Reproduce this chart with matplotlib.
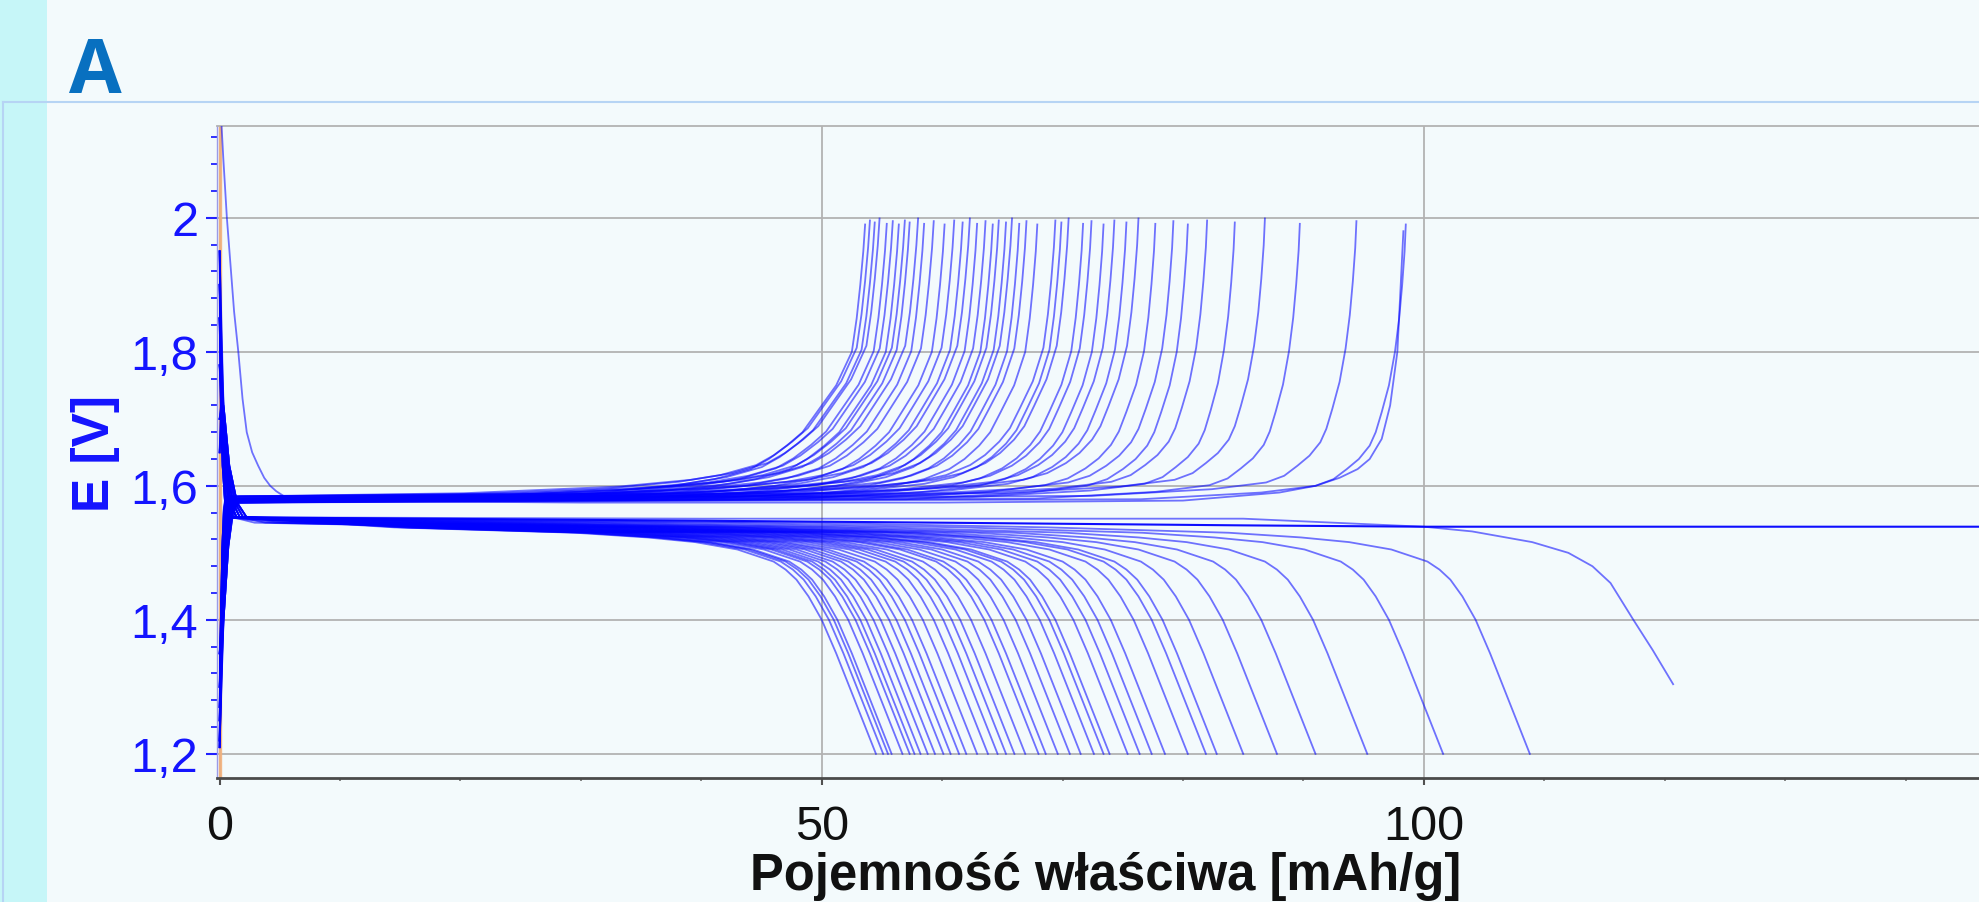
import numpy as np
import matplotlib
matplotlib.use("Agg")
import matplotlib.pyplot as plt
from matplotlib import font_manager
from matplotlib.ticker import FixedLocator, FixedFormatter
from matplotlib.lines import Line2D
from matplotlib.patches import Rectangle

# ---------------- data ----------------
charge_end_capacity = [53.6, 54.0, 54.4, 54.8, 55.4, 55.9, 56.4, 56.9, 57.3, 58.0,
                       58.5, 59.3, 60.2, 61.0, 61.7, 62.3, 62.9, 63.6, 64.2, 64.7,
                       65.3, 65.8, 66.4, 67.0, 67.9, 69.4, 69.9, 70.5, 71.7, 72.4,
                       73.4, 74.3, 75.3, 76.3, 77.7, 79.2, 80.4, 82.0, 84.3, 86.8,
                       89.7, 94.4, 98.5]
discharge_end_capacity = [54.5, 55.1, 55.5, 55.8, 56.7, 57.3, 57.7, 58.2, 58.8, 59.4,
                          60.1, 60.7, 61.4, 62.0, 62.9, 63.8, 64.6, 65.3, 66.0, 66.9,
                          68.0, 68.6, 69.6, 70.6, 71.5, 72.6, 73.4, 73.9, 75.4, 76.4,
                          77.4, 78.5, 80.4, 81.9, 82.8, 85.0, 87.8, 91.0, 95.3, 101.6,
                          108.8]

# charge curve: voltage levels and their distance before the end of charge
charge_levels = [1.99, 1.95, 1.90, 1.85, 1.80, 1.75, 1.71, 1.68, 1.66, 1.64,
                 1.625, 1.61, 1.60, 1.59, 1.58]
charge_dist_short = [0.0, 0.15, 0.4, 0.7, 1.1, 2.4, 4.0, 5.2, 6.5, 8.0,
                     9.5, 12.5, 16.0, 22.0, 35.0]
charge_dist_long = [0.0, 0.1, 0.3, 0.55, 0.9, 1.4, 2.0, 2.5, 3.0, 3.9,
                    4.9, 6.0, 7.5, 12.0, 22.0]
charge_start_x = [0.0, 0.2, 0.45, 0.7, 1.0]
charge_start_v = [1.21, 1.40, 1.51, 1.56, 1.575]
charge_start_low = [1.21, 1.25, 1.30, 1.22, 1.35, 1.27]
charge_band_offset = [0.000, 0.006, 0.003, 0.009, 0.001, 0.005]

# discharge curve: voltage levels and their distance before the end of discharge
discharge_levels = [1.550, 1.545, 1.538, 1.530, 1.523, 1.516, 1.505, 1.487, 1.475,
                    1.460, 1.435, 1.400, 1.350, 1.300, 1.250, 1.200]
discharge_dist = [120.0, 60.0, 40.0, 25.0, 19.0, 15.0, 11.5, 8.5, 7.5,
                  6.6, 5.6, 4.5, 3.3, 2.2, 1.1, 0.0]
discharge_start_x = [0.0, 0.2, 0.5, 0.9, 1.4]
discharge_start_v = [1.95, 1.72, 1.63, 1.575, 1.553]
discharge_start_top = [1.95, 1.85, 1.78, 1.70, 1.90, 1.65]

# width of the start-of-step transient, per cycle (repeating)
transient_width = [0.6, 1.0, 1.4, 0.8, 1.2, 0.5, 1.6]

# individual curves
long_discharge_x = [0.0, 0.2, 0.5, 0.9, 1.4, 40, 85, 100, 104, 109, 112, 114, 115.5, 117.4, 119, 120.7]
long_discharge_v = [1.90, 1.72, 1.63, 1.575, 1.553, 1.551, 1.551, 1.539, 1.532, 1.516, 1.500, 1.480, 1.455, 1.400, 1.355, 1.304]
open_discharge_x = [0.0, 0.2, 0.5, 0.9, 1.4, 40, 60, 85, 100, 146.5]
open_discharge_v = [1.85, 1.70, 1.62, 1.57, 1.553, 1.548, 1.545, 1.541, 1.539, 1.539]
first_charge_x = [0.15, 0.3, 0.6, 0.9, 1.2, 1.55, 1.9, 2.25, 2.7, 3.2, 3.7, 4.2, 4.7, 5.3, 6.5, 8,
                  30, 60, 80, 88, 91, 93, 94.5, 95.5, 96.5, 97.2, 97.8, 98.3]
first_charge_v = [2.14, 2.09, 2.00, 1.93, 1.86, 1.80, 1.73, 1.68, 1.65, 1.63, 1.612, 1.60, 1.592, 1.585, 1.58, 1.578,
                  1.575, 1.575, 1.578, 1.59, 1.60, 1.612, 1.625, 1.64, 1.67, 1.72, 1.80, 1.98]
marker_line_x = [0.0, 0.0]
marker_line_v = [1.10, 2.20]

x_major = [0, 50, 100]
x_major_labels = ["0", "50", "100"]
x_minor = [10, 20, 30, 40, 60, 70, 80, 90, 110, 120, 130, 140]
y_major = [1.2, 1.4, 1.6, 1.8, 2.0]
y_major_labels = ["1,2", "1,4", "1,6", "1,8", "2"]
y_minor = [round(1.16 + 0.04 * i, 2) for i in range(25)]

x_label = "Pojemność właściwa [mAh/g]"
y_label = "E [V]"
panel_label = "A"

# ---------------- figure ----------------
W, H = 1979, 903
BG = "#F3FAFC"
fig = plt.figure(figsize=(W / 100, H / 100), dpi=100, facecolor=BG)

names = {f.name for f in font_manager.fontManager.ttflist}
narrow = "Liberation Sans Narrow" in names
ylab_family = "Liberation Sans Narrow" if narrow else "Liberation Sans"
ylab_size = 46 if narrow else 37
a_family = "Open Sans" if "Open Sans" in names else "DejaVu Sans"

# decorative frame of the slide
fig.add_artist(Rectangle((0, 0), 47 / W, 1, transform=fig.transFigure,
                         facecolor="#C6F6F8", edgecolor="none", zorder=0))
fig.add_artist(Line2D([3 / W, 1], [1 - 103 / H] * 2, transform=fig.transFigure,
                      color="#B6D4F4", lw=1.5, zorder=1))
fig.add_artist(Line2D([3 / W] * 2, [0, 1 - 103 / H], transform=fig.transFigure,
                      color="#B6D4F4", lw=1.5, zorder=1))

left, right = 217, W
top, bottom = 127, 779
ax = fig.add_axes([left / W, 1 - bottom / H, (right - left) / W, (bottom - top) / H])
ax.set_facecolor(BG)
ax.set_xlim(-0.22, 146.1)
ax.set_ylim(1.164, 2.137)

# orange vertical trace at zero capacity
ax.plot(marker_line_x, marker_line_v, color="#F2B07A", lw=2.4, alpha=0.9, zorder=2)

LINE = dict(color="#0000FF", lw=1.3, alpha=0.55, zorder=3, solid_joinstyle="round")

qmin = min(charge_end_capacity)
for i, q in enumerate(charge_end_capacity):
    w = min(1.0, (q - qmin) / 30.0)
    dist = (1 - w) * np.array(charge_dist_short) + w * np.array(charge_dist_long)
    kx = q - dist[::-1]
    kv = np.array(charge_levels)[::-1]
    sx = np.array(charge_start_x) * transient_width[i % len(transient_width)]
    keep = kx > sx[-1] + 0.5
    sv = list(charge_start_v)
    sv[0] = charge_start_low[i % len(charge_start_low)]
    x = np.concatenate([sx, kx[keep]])
    v = np.concatenate([sv, kv[keep]])
    v[3:] = v[3:] + charge_band_offset[i % len(charge_band_offset)]
    ax.plot(x, v, **LINE)

for i, q in enumerate(discharge_end_capacity):
    kx = q - np.array(discharge_dist)
    kv = np.array(discharge_levels)
    sx = np.array(discharge_start_x) * transient_width[(i + 3) % len(transient_width)]
    keep = kx > sx[-1] + 0.5
    sv = list(discharge_start_v)
    sv[0] = discharge_start_top[i % len(discharge_start_top)]
    x = np.concatenate([sx, kx[keep]])
    v = np.concatenate([sv, kv[keep]])
    ax.plot(x, v, **LINE)

ax.plot(long_discharge_x, long_discharge_v, **LINE)
ax.plot(open_discharge_x, open_discharge_v, color="#0000FF", lw=1.5, alpha=0.95, zorder=3)
ax.plot(first_charge_x, first_charge_v, **LINE)

# ---------------- axes styling ----------------
ax.xaxis.set_major_locator(FixedLocator(x_major))
ax.xaxis.set_major_formatter(FixedFormatter(x_major_labels))
ax.xaxis.set_minor_locator(FixedLocator(x_minor))
ax.yaxis.set_major_locator(FixedLocator(y_major))
ax.yaxis.set_major_formatter(FixedFormatter(y_major_labels))
ax.yaxis.set_minor_locator(FixedLocator(y_minor))

ax.grid(which="major", color="#B2B2B2", lw=1.3)
ax.set_axisbelow(True)

ax.spines["right"].set_visible(False)
ax.spines["top"].set_color("#B2B2B2")
ax.spines["top"].set_linewidth(1.3)
ax.spines["bottom"].set_color("#4A4A4A")
ax.spines["bottom"].set_linewidth(2.0)
ax.spines["left"].set_color("#9A9AE8")
ax.spines["left"].set_linewidth(1.0)

ax.tick_params(axis="y", which="major", direction="out", length=8, width=1.5,
               color="#2020FF", labelcolor="#1414FF", labelsize=35, pad=5.5)
ax.tick_params(axis="y", which="minor", direction="out", length=4.3, width=1.3,
               color="#2020FF")
ax.tick_params(axis="x", which="major", direction="out", length=5, width=1.5,
               color="#505050", labelcolor="#111111", labelsize=35, pad=13.5)
ax.tick_params(axis="x", which="minor", direction="out", length=2.5, width=1.2,
               color="#707070")
for lab in ax.get_xticklabels() + ax.get_yticklabels():
    lab.set_fontfamily("Liberation Sans")

ax.set_xlabel(x_label, fontsize=36.5, fontweight="bold", family="Liberation Sans",
              color="#111111")
ax.xaxis.set_label_coords(0.5045, -0.170)
ax.xaxis.label.set_va("baseline")

ax.set_ylabel(y_label, fontsize=ylab_size, fontweight="bold", family=ylab_family,
              color="#1414FF")
ax.yaxis.set_label_coords((95 - left) / (right - left), 0.5)
ax.yaxis.label.set_va("center")

fig.text(69 / W, 1 - 93 / H, panel_label, fontsize=55, fontweight="bold",
         family=a_family, color="#0870C0", va="baseline", ha="left")

fig.savefig("out.png", dpi=100, facecolor=BG)
